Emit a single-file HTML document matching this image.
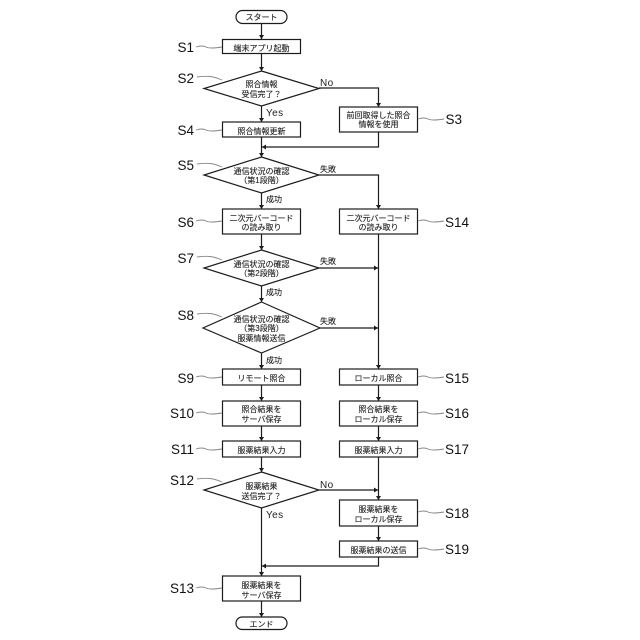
<!DOCTYPE html>
<html lang="ja">
<head>
<meta charset="utf-8">
<style>
html,body{margin:0;padding:0;background:#fff;width:640px;height:640px;overflow:hidden}
svg{display:block}
.b{fill:#fff;stroke:#1c1c1c;stroke-width:1.2}
.l{fill:none;stroke:#1c1c1c;stroke-width:1.2}
.q{fill:none;stroke:#888;stroke-width:.9}
.a{fill:#1c1c1c;stroke:none}
.t{font-family:"Liberation Sans","Noto Sans CJK JP",sans-serif;font-size:8px;fill:#222;stroke:#222;stroke-width:.12;text-anchor:middle}
.s{font-family:"Liberation Sans",sans-serif;font-size:13.5px;fill:#111;text-anchor:end}
.e{font-family:"Liberation Sans",sans-serif;font-size:10px;fill:#222;letter-spacing:.4px}
.j{font-family:"Liberation Sans","Noto Sans CJK JP",sans-serif;font-size:8px;fill:#222;stroke:#222;stroke-width:.12}
</style>
</head>
<body>
<svg width="640" height="640" viewBox="0 0 640 640" xmlns="http://www.w3.org/2000/svg">
<!-- connectors -->
<path class="l" d="M261.5 23V39M261.5 53V71M261.5 106V122M261.5 137V157M261.5 193V209M261.5 234V250M261.5 286V302M261.5 353V369M261.5 385V401M261.5 426V441M261.5 457V472M261.5 508V576M261.5 601V617"/>
<path class="l" d="M319 88H378.5V107M378.5 132V147H262M319 175H378.5V209M378.5 234V369M319 268H378M320 328H378M378.5 385V401M378.5 426V441M378.5 457V500M319 490H378M378.5 526V541M378.5 557V566H262"/>
<!-- arrowheads -->
<path class="a" d="M259 35h5l-2.500 4zM259 67h5l-2.500 4zM259 118h5l-2.500 4zM259 153h5l-2.500 4zM259 205h5l-2.500 4zM259 246h5l-2.500 4zM259 298h5l-2.500 4zM259 365h5l-2.500 4zM259 397h5l-2.500 4zM259 437h5l-2.500 4zM259 468h5l-2.500 4zM259 572h5l-2.500 4zM259 613h5l-2.500 4z"/>
<path class="a" d="M376 103h5l-2.500 4zM376 205h5l-2.500 4zM376 365h5l-2.500 4zM376 397h5l-2.500 4zM376 437h5l-2.500 4zM376 496h5l-2.500 4zM376 537h5l-2.500 4z"/>
<path class="a" d="M262 147l4-2.500v5zM262 566l4-2.500v5zM378 268l-4-2.500v5zM378 328l-4-2.500v5zM378 490l-4-2.500v5z"/>
<!-- nodes -->
<rect class="b" x="236" y="10.500" width="51" height="13" rx="6.500"/>
<rect class="b" x="222.500" y="39.500" width="78" height="14"/>
<polygon class="b" points="261.500,71 319,88.500 261.500,106 204,88.500"/>
<rect class="b" x="222.500" y="122" width="78" height="15"/>
<rect class="b" x="339.500" y="107" width="78" height="25"/>
<polygon class="b" points="261.500,157 319,175 261.500,193 204,175"/>
<rect class="b" x="222.500" y="209" width="78" height="25"/>
<rect class="b" x="339.500" y="209" width="78" height="25"/>
<polygon class="b" points="261.500,250 319,268 261.500,286 204,268"/>
<polygon class="b" points="261.500,302 320,328 261.500,353 203,328"/>
<rect class="b" x="222.500" y="369" width="78" height="16"/>
<rect class="b" x="339.500" y="369" width="78" height="16"/>
<rect class="b" x="222.500" y="401" width="78" height="25"/>
<rect class="b" x="339.500" y="401" width="78" height="25"/>
<rect class="b" x="222.500" y="441" width="78" height="16"/>
<rect class="b" x="339.500" y="441" width="78" height="16"/>
<polygon class="b" points="261.500,472 319,490 261.500,508 204,490"/>
<rect class="b" x="339.500" y="500" width="78" height="26"/>
<rect class="b" x="339.500" y="541" width="78" height="16"/>
<rect class="b" x="222.500" y="576" width="78" height="25"/>
<rect class="b" x="236" y="617" width="51" height="12.500" rx="6.200"/>
<!-- node text -->
<g class="t">
<text x="261.500" y="20">スタート</text>
<text x="261.500" y="51">端末アプリ起動</text>
<text x="261.500" y="87">照合情報</text>
<text x="261.500" y="97">受信完了？</text>
<text x="261.500" y="134">照合情報更新</text>
<text x="378.500" y="118">前回取得した照合</text>
<text x="378.500" y="127">情報を使用</text>
<text x="261.500" y="174">通信状況の確認</text>
<text x="261.500" y="183">（第1段階）</text>
<text x="261.500" y="221">二次元バーコード</text>
<text x="261.500" y="230">の読み取り</text>
<text x="378.500" y="221">二次元バーコード</text>
<text x="378.500" y="230">の読み取り</text>
<text x="261.500" y="267">通信状況の確認</text>
<text x="261.500" y="276">（第2段階）</text>
<text x="261.500" y="322">通信状況の確認</text>
<text x="261.500" y="331">（第3段階）</text>
<text x="261.500" y="341">服薬情報送信</text>
<text x="261.500" y="381">リモート照合</text>
<text x="378.500" y="381">ローカル照合</text>
<text x="261.500" y="412">照合結果を</text>
<text x="261.500" y="422">サーバ保存</text>
<text x="378.500" y="412">照合結果を</text>
<text x="378.500" y="422">ローカル保存</text>
<text x="261.500" y="453">服薬結果入力</text>
<text x="378.500" y="453">服薬結果入力</text>
<text x="261.500" y="489">服薬結果</text>
<text x="261.500" y="499">送信完了？</text>
<text x="378.500" y="512">服薬結果を</text>
<text x="378.500" y="522">ローカル保存</text>
<text x="378.500" y="553">服薬結果の送信</text>
<text x="261.500" y="588">服薬結果を</text>
<text x="261.500" y="598">サーバ保存</text>
<text x="261.500" y="627">エンド</text>
</g>
<!-- branch labels -->
<text class="e" x="320" y="86">No</text>
<text class="e" x="266" y="116">Yes</text>
<text class="e" x="320" y="488">No</text>
<text class="e" x="266" y="518">Yes</text>
<g class="j">
<text x="320" y="172">失敗</text>
<text x="266" y="202">成功</text>
<text x="320" y="264">失敗</text>
<text x="266" y="295">成功</text>
<text x="320" y="324">失敗</text>
<text x="266" y="363">成功</text>
</g>
<!-- step labels -->
<g class="s">
<text x="194" y="52">S1</text>
<text x="194" y="83">S2</text>
<text x="194" y="135">S4</text>
<text x="194" y="170">S5</text>
<text x="194" y="227">S6</text>
<text x="194" y="263">S7</text>
<text x="194" y="320">S8</text>
<text x="194" y="383">S9</text>
<text x="194" y="418">S10</text>
<text x="194" y="454">S11</text>
<text x="194" y="485">S12</text>
<text x="194" y="593">S13</text>
<text x="462" y="124">S3</text>
<text x="469" y="227">S14</text>
<text x="469" y="383">S15</text>
<text x="469" y="418">S16</text>
<text x="469" y="454">S17</text>
<text x="469" y="518">S18</text>
<text x="469" y="554">S19</text>
</g>
<!-- leader squiggles -->
<g class="q">
<path d="M196 47q6-2 10 0t16 0"/>
<path d="M197 77q8-1 13-.500t12 3.500"/>
<path d="M196 130q6-2 10 0t16 0"/>
<path d="M197 164q8-1 13-.500t12 3.500"/>
<path d="M196 221q6-2 10 0t16 0"/>
<path d="M197 257q8-1 13-.500t12 3.500"/>
<path d="M197 314q8-1 13-.500t12 3.500"/>
<path d="M196 377q6-2 10 0t16 0"/>
<path d="M196 413q6-2 10 0t16 0"/>
<path d="M196 449q6-2 10 0t16 0"/>
<path d="M197 479q8-1 13-.500t12 3.500"/>
<path d="M196 588q6-2 10 0t16 0"/>
<path d="M418 119q6-2 10 0t16 0"/>
<path d="M418 221q6-2 10 0t16 0"/>
<path d="M418 377q6-2 10 0t16 0"/>
<path d="M418 413q6-2 10 0t16 0"/>
<path d="M418 449q6-2 10 0t16 0"/>
<path d="M418 512q6-2 10 0t16 0"/>
<path d="M418 549q6-2 10 0t16 0"/>
</g>
</svg>
</body>
</html>
